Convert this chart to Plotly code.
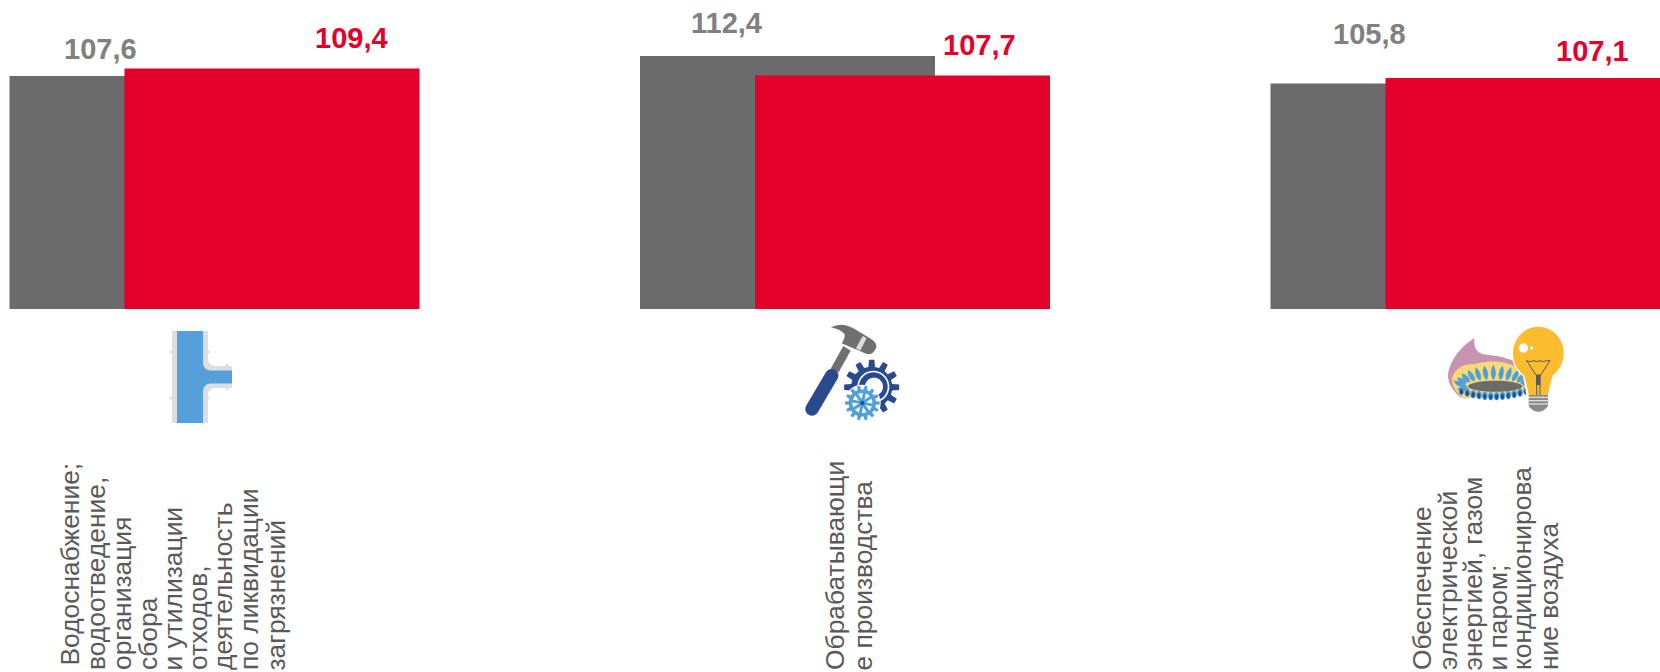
import math
import plotly.graph_objects as go

W, H, BASE_PX = 1660, 672, 309

categories = ["Водоснабжение", "Обрабатывающие производства", "Электроэнергия"]
gray_values = [107.6, 112.4, 105.8]
red_values = [109.4, 107.7, 107.1]
gray_labels = ["107,6", "112,4", "105,8"]
red_labels = ["109,4", "107,7", "107,1"]
category_lines = [
    ["Водоснабжение;", "водоотведение,", "организация", "сбора", "и утилизации",
     "отходов,", "деятельность", "по ликвидации", "загрязнений"],
    ["Обрабатывающи", "е производства"],
    ["Обеспечение", "электрической", "энергией, газом", "и паром;", "кондиционирова", "ние воздуха"],
]

GRAY, RED, TXT = "#6b6b6b", "#e4002b", "#595959"
LBL_GRAY = "#808080"
PERIOD = 630.5
X0 = 214.0
BW = 295 / PERIOD
Y_MIN, Y_MAX = 51.7, 51.7 + 309 / 4.17


def px(x):
    return x / W


def py(y):
    return 1 - y / BASE_PX


def poly(pts, fill, ox=0, oy=0, s=1.0, line=None, lw=0, closed=True):
    d = ""
    for i, (x, y) in enumerate(pts):
        d += ("M" if i == 0 else "L") + f"{px(ox + x * s):.5f},{py(oy + y * s):.5f} "
    if closed:
        d += "Z"
    return dict(type="path", xref="paper", yref="paper", path=d, fillcolor=fill if closed else "rgba(0,0,0,0)",
                line=dict(color=line or "rgba(0,0,0,0)", width=lw), layer="above")


def curve(p0, c, p1, n=10):
    out = []
    for k in range(n + 1):
        t = k / n
        out.append(((1 - t) ** 2 * p0[0] + 2 * t * (1 - t) * c[0] + t * t * p1[0],
                    (1 - t) ** 2 * p0[1] + 2 * t * (1 - t) * c[1] + t * t * p1[1]))
    return out


def circle(cx, cy, r, fill, ox=0, oy=0, s=1.0, ry=None, line=None, lw=0):
    ry = ry or r
    pts = [(cx + r * math.cos(2 * math.pi * k / 36), cy + ry * math.sin(2 * math.pi * k / 36)) for k in range(36)]
    return poly(pts, fill, ox, oy, s, line, lw)


def gear(cx, cy, ro, ri, teeth, fill, ox, oy, s):
    pts = []
    st = 2 * math.pi / teeth
    for k in range(teeth):
        a = st * k
        for da, r in [(-0.30, ri), (-0.19, ro), (0.19, ro), (0.30, ri)]:
            pts.append((cx + r * math.cos(a + da * st), cy + r * math.sin(a + da * st)))
    return poly(pts, fill, ox, oy, s)


def capsule(x0, y0, x1, y1, r, fill, ox, oy, s):
    a = math.atan2(y1 - y0, x1 - x0)
    pts = []
    for k in range(13):
        t = a + math.pi / 2 + math.pi * k / 12
        pts.append((x0 + r * math.cos(t), y0 + r * math.sin(t)))
    for k in range(13):
        t = a - math.pi / 2 + math.pi * k / 12
        pts.append((x1 + r * math.cos(t), y1 + r * math.sin(t)))
    return poly(pts, fill, ox, oy, s)


def petal(bx, by, tx, ty, w, fill, ox, oy, s):
    dx, dy = tx - bx, ty - by
    n = math.hypot(dx, dy)
    nx, ny = -dy / n * w, dx / n * w
    mx, my = bx + dx * 0.4, by + dy * 0.4
    left = curve((bx, by), (mx + nx * 1.6, my + ny * 1.6), (tx, ty), 6)
    right = curve((tx, ty), (mx - nx * 1.6, my - ny * 1.6), (bx, by), 6)
    return poly(left + right, fill, ox, oy, s)


shapes = []

# pipe icon
PG, PB = "#dedede", "#559fda"
shapes.append(poly([(172, 331), (208, 331), (208, 358)] + curve((208, 358), (208, 366), (216, 366)) +
                   [(232, 366), (232, 388)] + curve((216, 388), (208, 388), (208, 396)) +
                   [(208, 423), (172, 423)], PG))
shapes.append(poly([(177, 331), (203, 331), (203, 362)] + curve((203, 362), (203, 370.5), (212, 370.5)) +
                   [(232, 370.5), (232, 383.5)] + curve((212, 383.5), (203, 383.5), (203, 392)) +
                   [(203, 423), (177, 423)], PB))
for cx, cy in [(171, 352), (208, 352), (171, 398), (208, 398), (227, 365), (227, 389)]:
    shapes.append(circle(cx, cy, 1.5, PG))

# hammer and gears icon
ox, oy, s = 700, 280, 1 / 3
HG, HB, LB = "#6f6f6f", "#2a4a8f", "#4f9fd8"
shapes.append(poly([(430, 198), (452, 212), (415, 278), (392, 266)], HG, ox, oy, s))
shapes.append(capsule(395, 287, 336, 387, 20, HB, ox, oy, s))
shapes.append(poly(curve((393, 143), (425, 125), (460, 145)) + [(510, 175)] + curve((510, 175), (538, 192), (525, 210)) +
                   curve((525, 210), (515, 228), (495, 220)) + [(425, 190)] + curve((425, 190), (438, 170), (432, 160)) +
                   curve((432, 160), (415, 145), (393, 143)), HG, ox, oy, s))
shapes.append(poly([(488, 168), (500, 175), (480, 212), (468, 205)], "#dcdcdc", ox, oy, s))
shapes.append(gear(515, 322, 83, 62, 12, HB, ox, oy, s))
shapes.append(circle(520, 320, 48, "#ffffff", ox, oy, s))
shapes.append(circle(520, 320, 43, HB, ox, oy, s))
shapes.append(circle(522, 320, 27, "#ffffff", ox, oy, s))
shapes.append(circle(487, 369, 55, "#ffffff", ox, oy, s))
shapes.append(gear(487, 369, 52, 41, 14, LB, ox, oy, s))
shapes.append(circle(487, 369, 30, "#ffffff", ox, oy, s))
for k in range(4):
    a = math.pi * k / 4 + 0.2
    shapes.append(capsule(487 - 32 * math.cos(a), 369 - 32 * math.sin(a), 487 + 32 * math.cos(a),
                          369 + 32 * math.sin(a), 4.5, LB, ox, oy, s))
shapes.append(circle(487, 369, 6, HB, ox, oy, s))

# gas flame
ox, oy, s = 1440, 320, 0.345
PK, YL, BU, DB, GG, BY = "#c893b0", "#f8d976", "#4f9fd8", "#2a4a8f", "#6b6b6b", "#fdbb30"
shapes.append(poly(curve((24, 150), (40, 90), (100, 52)) + curve((100, 52), (95, 95), (130, 100)) +
                   curve((130, 100), (190, 105), (235, 128)) + [(250, 190), (60, 225)] +
                   curve((60, 225), (18, 190), (24, 150)), PK, ox, oy, s))
shapes.append(poly(curve((34, 170), (50, 125), (100, 128)) + curve((100, 128), (180, 105), (245, 150)) +
                   [(255, 210), (70, 228)] + curve((70, 228), (36, 205), (34, 170)), YL, ox, oy, s))
CX, CY = 155, 192
for k in range(13):
    a = math.radians(190 + k * 13.3)
    bx, by = CX + 85 * math.cos(a), CY + 18 * math.sin(a)
    tx, ty = CX + 115 * math.cos(a), CY + 62 * math.sin(a)
    shapes.append(petal(bx, by, tx, ty, 9, BU, ox, oy, s))
for (bx, by, tx, ty) in [(80, 195, 38, 175), (85, 200, 48, 200)]:
    shapes.append(petal(bx, by, tx, ty, 7, BU, ox, oy, s))
for k in range(12):
    cx = 62 + k * 17
    cy = 203 + 18 * (1 - ((cx - 155) / 100) ** 2)
    shapes.append(circle(cx, cy, 8, BU, ox, oy, s, ry=12))
    shapes.append(circle(cx, cy + 2, 4.5, DB, ox, oy, s, ry=8))
shapes.append(circle(160, 192, 78, GG, ox, oy, s, ry=16))

# light bulb
ox, oy, s = 1300, 280, 1 / 3
DL = "#595959"
bulb = []
for k in range(37):
    t = math.radians(125 + k * (290 / 36))
    bulb.append((715 + 76 * math.cos(t), 220 + 80 * math.sin(t)))
halo = [(680, 350)] + [(715 + 80 * math.cos(math.radians(125 + k * 8.06)), 220 + 84 * math.sin(math.radians(125 + k * 8.06)))
                        for k in range(37)] + [(750, 350)]
shapes.append(poly(halo, "#ffffff", ox, oy, s))
bulb = [(686, 345)] + curve((686, 345), (680, 310), (671, 285)) + bulb + curve((759, 285), (750, 310), (744, 345))
shapes.append(poly(bulb, BY, ox, oy, s))
shapes.append(circle(670, 204, 14, "#ffffff", ox, oy, s))
shapes.append(circle(695, 204, 5, "#ffffff", ox, oy, s))
shapes.append(poly([(680, 242), (690, 245), (700, 242), (710, 245), (720, 242), (730, 245), (740, 242), (750, 242)],
                   "#fff", ox, oy, s, DL, 1, closed=False))
shapes.append(poly([(680, 242), (708, 285), (722, 285), (750, 242)], "#fff", ox, oy, s, DL, 1, closed=False))
shapes.append(poly([(708, 285), (722, 285), (722, 315), (708, 315)], DL, ox, oy, s))
shapes.append(poly([(710, 315), (710, 345)], "#fff", ox, oy, s, DL, 1, closed=False))
shapes.append(poly([(720, 315), (720, 345)], "#fff", ox, oy, s, DL, 1, closed=False))
shapes.append(poly([(686, 345), (744, 345), (744, 378)] + curve((744, 378), (730, 396), (715, 395)) +
                   curve((715, 395), (700, 396), (686, 378)), "#8a8a8a", ox, oy, s))
for yy in [352, 362, 372]:
    shapes.append(poly([(684, yy), (746, yy)], "#fff", ox, oy, s, "#e6e6e6", 1.2, closed=False))

annotations = []
gray_pos = [(100.5, 48.7), (726, 23), (1369, 34)]
red_pos = [(351, 38), (979, 45.5), (1592, 51)]
for txts, poss, col in [(gray_labels, gray_pos, LBL_GRAY), (red_labels, red_pos, RED)]:
    for t, (x, y) in zip(txts, poss):
        annotations.append(dict(text=f"<b>{t}</b>", x=px(x), y=py(y), xref="paper", yref="paper", showarrow=False,
                                xanchor="center", yanchor="middle", font=dict(family="Liberation Sans", size=29, color=col)))

line_x = [
    [70, 96, 122, 148, 172, 198, 223, 249, 275],
    [835, 862],
    [1422, 1448, 1472, 1497, 1522, 1549],
]
line_bottom = [
    [667, 671.5, 671.5, 671.5, 671.5, 671.5, 671.5, 671.5, 671.5],
    [671.5, 671.5],
    [671, 671.5, 671.5, 671.5, 671.5, 671.5],
]
for lines, xs, bs in zip(category_lines, line_x, line_bottom):
    for t, x, b in zip(lines, xs, bs):
        annotations.append(dict(text=t, x=px(x), y=py(b), xref="paper", yref="paper", showarrow=False, textangle=-90,
                                xanchor="center", yanchor="bottom", borderpad=0,
                                font=dict(family="Liberation Sans", size=26.4, color=TXT)))

fig = go.Figure()
fig.add_bar(x=categories, y=gray_values, width=BW, offset=-204.5 / PERIOD, marker=dict(color=GRAY, line_width=0), name="gray")
fig.add_bar(x=categories, y=red_values, width=BW, offset=(-204.5 + 115) / PERIOD, marker=dict(color=RED, line_width=0), name="red")
fig.update_layout(
    width=W, height=H, barmode="overlay", showlegend=False,
    margin=dict(l=0, r=0, t=0, b=H - BASE_PX, pad=0),
    paper_bgcolor="white", plot_bgcolor="white",
    xaxis=dict(type="category", categoryorder="array", categoryarray=categories,
               range=[-X0 / PERIOD, (W - X0) / PERIOD], visible=False),
    yaxis=dict(range=[Y_MIN, Y_MAX], visible=False),
    shapes=shapes, annotations=annotations,
)
fig.write_html("out.html", config=dict(displayModeBar=False),
               post_script="document.body.style.margin='0';document.body.style.overflow='hidden';")
